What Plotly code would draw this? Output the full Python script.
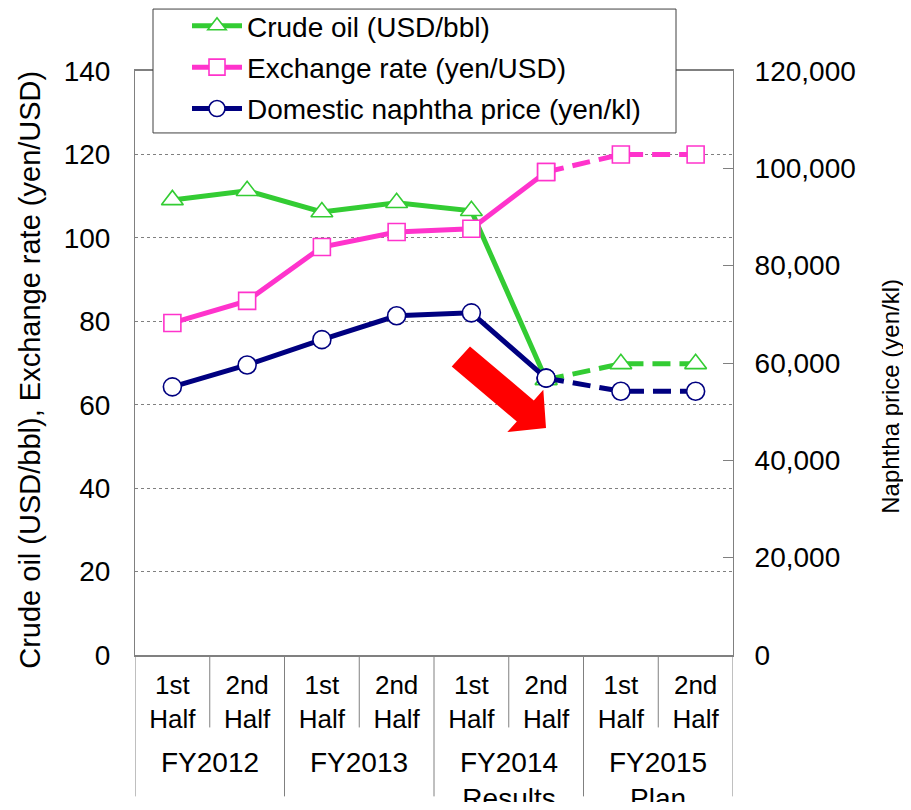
import plotly.graph_objects as go

# category labels (two-level x axis)
years = ["FY2012", "FY2012", "FY2013", "FY2013",
         "FY2014<br>Results", "FY2014<br>Results", "FY2015<br>Plan", "FY2015<br>Plan"]
halves = ["1st<br>Half", "2nd<br>Half"] * 4

# series values
crude_oil = [109.1, 111.3, 106.2, 108.4, 106.5, 66.0, 69.8, 69.8]          # USD/bbl
exchange_rate = [79.6, 84.9, 97.8, 101.4, 102.2, 115.8, 120.0, 120.0]    # yen/USD
naphtha = [55100, 59600, 64800, 69700, 70300, 56900, 54200, 54200]       # yen/kl

left_ticks = [0, 20, 40, 60, 80, 100, 120, 140]
right_ticks = [0, 20000, 40000, 60000, 80000, 100000, 120000]

N_ACTUAL = 6  # first six halves are results, the rest is plan (dashed)

FONT = "Liberation Sans, Arial, sans-serif"
GREEN = "#33CC33"
PINK = "#FF33CC"
NAVY = "#000080"
AXIS_GRAY = "#808080"

# page has an 8px body margin, so the figure is 16px smaller than the window
W, H = 895, 794
M_L, M_R, M_T, M_B = 127, 170, 63, 146.5
PAGE_OFF = 8


def px_to_paper(px, py):
    # reference (window) pixel -> paper coords
    x = (px - PAGE_OFF - M_L) / (W - M_L - M_R)
    y = (H - M_B - (py - PAGE_OFF)) / (H - M_T - M_B)
    return x, y


cats = [f"{y.split('<br>')[0]} {h.replace('<br>', ' ')}" for y, h in zip(years, halves)]

fig = go.Figure()

series = [
    ("Crude oil (USD/bbl)", crude_oil, GREEN, "triangle-up", 19, "y"),
    ("Exchange rate (yen/USD)", exchange_rate, PINK, "square", 17, "y"),
    ("Domestic naphtha price (yen/kl)", naphtha, NAVY, "circle", 18, "y2"),
]

for i, (name, vals, color, symbol, size, yax) in enumerate(series):
    marker = dict(symbol=symbol, size=size, color="white",
                  line=dict(color=color, width=1.6))
    fig.add_trace(go.Scatter(
        x=cats[:N_ACTUAL], y=vals[:N_ACTUAL], name=name, yaxis=yax,
        mode="lines+markers", legendgroup=f"g{i}",
        line=dict(color=color, width=5), marker=marker,
    ))
    fig.add_trace(go.Scatter(
        x=cats[N_ACTUAL - 1:], y=vals[N_ACTUAL - 1:], name=name, yaxis=yax,
        mode="lines+markers", legendgroup=f"g{i}", showlegend=False,
        line=dict(color=color, width=5, dash="18px,9px"), marker=marker,
    ))

# dividers under the x axis: short ones between halves, long ones between years
y_half_end = px_to_paper(0, 728)[1]
y_year_end = px_to_paper(0, 797)[1]
for i in range(len(cats) + 1):
    new_year = i == 0 or i == len(cats) or years[i] != years[i - 1]
    fig.add_shape(type="line", xref="x", yref="paper",
                  x0=i - 0.5, x1=i - 0.5, y0=0,
                  y1=y_year_end if new_year else y_half_end,
                  line=dict(color=AXIS_GRAY, width=1))

# year group labels
groups = []
for i, y in enumerate(years):
    if not groups or groups[-1][0] != y:
        groups.append([y, i, i])
    else:
        groups[-1][2] = i
y_year_lbl = px_to_paper(0, 746)[1]
for label, i0, i1 in groups:
    fig.add_annotation(x=(i0 + i1) / 2, y=y_year_lbl, xref="x", yref="paper",
                       text=label, showarrow=False, yanchor="top",
                       font=dict(size=28))

# axis titles
tx, ty = px_to_paper(30, 370)
fig.add_annotation(x=tx, y=ty, xref="paper", yref="paper", textangle=-90,
                   xanchor="center", yanchor="middle",
                   text="Crude oil (USD/bbl), Exchange rate (yen/USD)",
                   showarrow=False, font=dict(size=29))
tx, ty = px_to_paper(891, 397)
fig.add_annotation(x=tx, y=ty, xref="paper", yref="paper", textangle=-90,
                   xanchor="center", yanchor="middle",
                   text="Naphtha price (yen/kl)", showarrow=False,
                   font=dict(size=24))

# legend frame (legend itself is placed inside it)
bx0, by0 = px_to_paper(153, 9)
bx1, by1 = px_to_paper(676, 133)
fig.add_shape(type="rect", xref="paper", yref="paper",
              x0=bx0, y0=by0, x1=bx1, y1=by1, layer="above",
              fillcolor="white", line=dict(color="#404040", width=1))

# red block arrow pointing down (pixel outline converted to paper coords)
arrow_px = [(470, 346.7), (533.8, 400.7), (543.3, 390), (546, 428.3),
            (507.3, 432.3), (516.8, 421.7), (451.7, 366.7)]
pts = [px_to_paper(x, y) for x, y in arrow_px]
path = "M " + " L ".join(f"{x:.4f},{y:.4f}" for x, y in pts) + " Z"
fig.add_shape(type="path", path=path, xref="paper", yref="paper",
              fillcolor="#FF0000", line=dict(width=0), layer="above")

lx, ly = px_to_paper(187, 1)

fig.update_layout(
    width=W, height=H,
    margin=dict(l=M_L, r=M_R, t=M_T, b=M_B, autoexpand=False),
    paper_bgcolor="white",
    plot_bgcolor="white",
    font=dict(family=FONT, size=22, color="black"),
    legend=dict(
        x=lx, y=ly, xanchor="left", yanchor="top",
        bgcolor="rgba(0,0,0,0)", borderwidth=0,
        font=dict(size=28), tracegroupgap=2, itemwidth=50,
    ),
    xaxis=dict(
        type="category", automargin=False, range=[-0.5, len(cats) - 0.5],
        tickmode="array", tickvals=cats, ticktext=halves,
        showline=True, linecolor=AXIS_GRAY, linewidth=2, mirror=True,
        ticks="", ticklabelstandoff=6,
        showgrid=False, tickfont=dict(size=26),
    ),
    yaxis=dict(
        range=[0, 140], tickvals=left_ticks, automargin=False,
        showline=True, linecolor=AXIS_GRAY, linewidth=1,
        showgrid=True, gridcolor=AXIS_GRAY, griddash="dot", gridwidth=1,
        zeroline=False, ticks="", ticklabelstandoff=18,
        tickfont=dict(size=28),
    ),
    yaxis2=dict(
        range=[0, 120000], tickvals=right_ticks, tickformat=",",
        overlaying="y", side="right", automargin=False,
        showline=True, linecolor=AXIS_GRAY, linewidth=1,
        showgrid=False, zeroline=False,
        ticks="inside", ticklen=10, tickcolor=AXIS_GRAY, ticklabelstandoff=15,
        tickfont=dict(size=28),
    ),
    showlegend=True,
)

fig.write_html("out.html")
